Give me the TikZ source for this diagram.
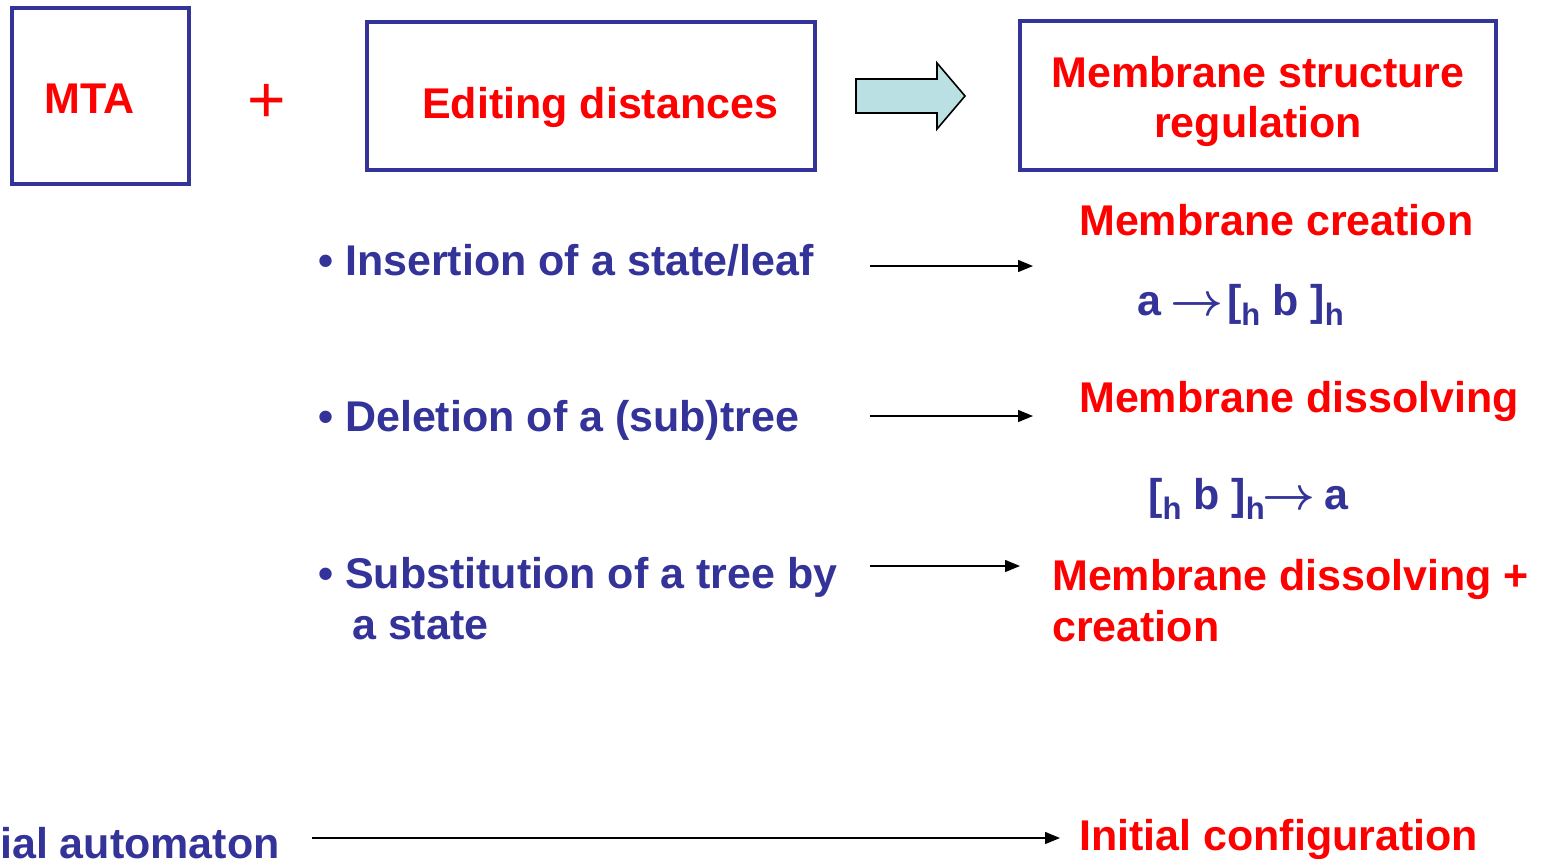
\documentclass[tikz,border=0pt]{standalone}
\usepackage{graphicx}
\usepackage{fontspec}
\setmainfont{Liberation Sans}
\usetikzlibrary{arrows.meta}
\definecolor{pblue}{HTML}{333399}
\definecolor{pred}{HTML}{FF0000}
\definecolor{pcyan}{HTML}{BBE0E3}
\newcommand{\bigtxt}{\fontsize{43}{50}\selectfont\bfseries}
\newcommand{\subh}{\raisebox{-10pt}{\fontsize{31}{31}\selectfont h}}
\newcommand{\thinarrow}{\scalebox{1.85}{\boldmath$\rightarrow$}}
\begin{document}
\begin{tikzpicture}[x=1pt,y=-1pt,
  frame/.style={draw=pblue,line width=4pt},
  rtxt/.style={text=pred,font=\bigtxt,inner sep=0pt,anchor=base west},
  btxt/.style={text=pblue,font=\bigtxt,inner sep=0pt,anchor=base west},
  conn/.style={line width=1.4pt,-{Triangle[length=15pt,width=12pt]}}]
\useasboundingbox (0,0) rectangle (1545,862);
% boxes
\draw[frame] (12,8) rectangle (189,184);
\draw[frame] (367,22) rectangle (815,170);
\draw[frame] (1020,21) rectangle (1496,170);
\node[rtxt] (mta) at (44,113) {MTA};
\node[text=pred,font=\fontsize{66}{66}\selectfont,inner sep=0pt,anchor=base] (plus) at (267,122) {+};
\node[rtxt] (edit) at (422,118) {Editing distances};
\node[text=pred,font=\bigtxt,inner sep=0pt,align=center,anchor=base] (msr) at (1258,137) {Membrane structure\\regulation};
% block arrow
\draw[fill=pcyan,line width=1.6pt,line join=miter] (856,79) -- (937,79) -- (937,63) -- (965,96) -- (937,129) -- (937,113) -- (856,113) -- cycle;
% left items
\node[btxt] (ins) at (318,275) {•\ Insertion of a state/leaf};
\node[btxt] (del) at (318,431) {•\ Deletion of a (sub)tree};
\node[btxt] (sub) at (318,588) {•\ Substitution of a tree by};
\node[btxt] (sub2) at (352,639) {a state};
\node[btxt] (init) at (0,858) {ial automaton};
% right items
\node[rtxt] (mc) at (1079,235) {Membrane creation};
\node[btxt] (f1) at (1137,315) {a\hspace{9pt}\thinarrow\hspace{4pt}[\subh\ b ]\subh};
\node[rtxt] (md) at (1079,412) {Membrane dissolving};
\node[btxt] (f2) at (1148,509) {[\subh\ b ]\subh\hspace{-2pt}\thinarrow\hspace{9pt}a};
\node[rtxt] (mdc) at (1052,590) {Membrane dissolving +};
\node[rtxt] (mdc2) at (1052,641) {creation};
\node[rtxt] (ic) at (1079,850) {Initial configuration};
% connectors
\coordinate (a1s) at (870,266); \coordinate (a1e) at (1033,266);
\coordinate (a2s) at (870,416); \coordinate (a2e) at (1033,416);
\coordinate (a3s) at (870,566); \coordinate (a3e) at (1020,566);
\coordinate (a4s) at (312,838); \coordinate (a4e) at (1060,838);
\draw[conn] (a1s) -- (a1e);
\draw[conn] (a2s) -- (a2e);
\draw[conn] (a3s) -- (a3e);
\draw[conn] (a4s) -- (a4e);
\end{tikzpicture}
\end{document}
